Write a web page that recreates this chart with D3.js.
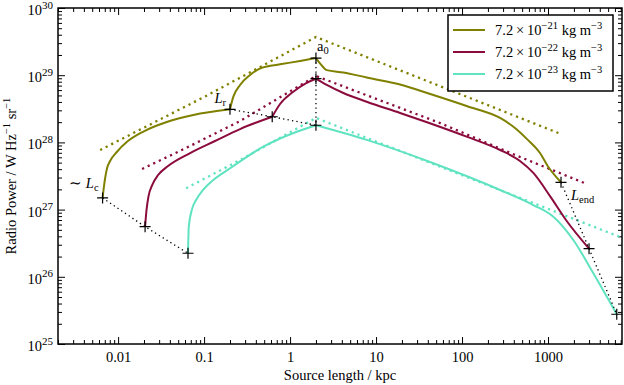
<!DOCTYPE html>
<html>
<head>
<meta charset="utf-8">
<script src="https://cdn.jsdelivr.net/npm/d3@7"></script>
<style>
  body { margin: 0; background: #fff; }
  text { font-family: "Liberation Serif", "Times New Roman", serif; }
</style>
</head>
<body>
<svg id="chart"></svg>
<script>
// axis ticks
var lengthTicks = [0.01, 0.1, 1, 10, 100, 1000];
var lengthLabels = ["0.01", "0.1", "1", "10", "100", "1000"];
var powerTicks = [1e25, 1e26, 1e27, 1e28, 1e29, 1e30];
var powerExps = ["25", "26", "27", "28", "29", "30"];

// ambient densities (legend), one per track
var densityExps = ["\u221221", "\u221222", "\u221223"];
var colors = ["#808000", "#8b0b3d", "#5fe3c0"];

// solid tracks: [source length / kpc, radio power / W Hz^-1 sr^-1]
var track21 = [
  [0.0066, 1.49e27], [0.00688, 2.32e27], [0.00745, 4.16e27], [0.00807, 5.29e27], [0.00966, 7.2e27],
  [0.0126, 1.01e28], [0.0197, 1.45e28], [0.0368, 2.01e28], [0.0751, 2.56e28], [0.2, 3.11e28],
  [0.219, 4.79e28], [0.262, 7.15e28], [0.343, 1.01e29], [0.469, 1.29e29], [0.765, 1.45e29],
  [1.31, 1.63e29], [2.0, 1.8e29],
  [2.23, 1.5e29], [2.67, 1.19e29], [4.17, 1.1e29], [7.79, 9.24e28], [19, 7.27e28], [46.4, 5.07e28],
  [113, 3.48e28], [277, 2.31e28], [413, 1.64e28], [570, 1.12e28], [807, 6.95e27], [1000, 4.38e27],
  [1416, 2.55e27]
];
var track22 = [
  [0.0206, 5.57e26], [0.0214, 9.86e26], [0.0226, 1.59e27], [0.0249, 2.32e27], [0.0292, 3.27e27],
  [0.0381, 4.46e27], [0.0688, 6.95e27], [0.134, 1.05e28], [0.262, 1.58e28], [0.62, 2.41e28],
  [0.765, 3.73e28], [1.08, 5.62e28], [1.54, 7.65e28], [2.0, 8.87e28],
  [2.67, 7.15e28], [4.17, 5.43e28], [7.79, 4.03e28], [19, 2.74e28], [46.4, 1.85e28], [113, 1.22e28],
  [277, 7.71e27], [472, 5.29e27], [675, 3.51e27], [1055, 1.59e27], [1650, 6.76e26], [3000, 2.62e26]
];
var track23 = [
  [0.065, 2.24e26], [0.0664, 5.57e26], [0.0719, 9.86e26], [0.0807, 1.39e27], [0.0973, 1.96e27],
  [0.128, 2.76e27], [0.2005, 4.12e27], [0.489, 8.63e27], [1.197, 1.44e28], [2.0, 1.8e28],
  [7.79, 1.09e28], [46.4, 4.89e27], [277, 1.96e27], [675, 1.17e27], [1153, 7.84e26],
  [1968, 3.53e26], [3363, 1.13e26], [6300, 2.77e25]
];

// dotted analytic approximations
var approx21 = [[0.00618, 7.71e27], [0.1027, 4.82e28], [2.0, 3.7e29], [1416, 1.33e28]];
var approx22 = [[0.019, 4.02e27], [0.0688, 8.84e27], [0.262, 2.08e28], [2.0, 9.73e28], [55.5, 1.94e28], [472, 6.07e27], [2840, 2.4e27]];
var approx23 = [[0.0618, 2.08e27], [0.262, 5.47e27], [2.0, 2.31e28], [6871, 3.91e26]];

// characteristic points (one per track)
var ptsLc = [[0.0066, 1.49e27], [0.0206, 5.57e26], [0.065, 2.24e26]];
var ptsLr = [[0.2, 3.11e28], [0.62, 2.41e28], [2.0, 1.8e28]];
var ptsA0 = [[2.0, 1.8e29], [2.0, 8.87e28], [2.0, 1.8e28]];
var ptsEnd = [[1416, 2.55e27], [3000, 2.62e26], [6300, 2.77e25]];

var tracks = [track21, track22, track23];
var approxes = [approx21, approx22, approx23];

// set the dimensions and margins of the graph
var margin = { top: 8, right: 2, bottom: 41, left: 58 },
    width = 624 - margin.left - margin.right,
    height = 385 - margin.top - margin.bottom;

var svg = d3.select("#chart")
    .attr("width", 624)
    .attr("height", 385);

var g = svg.append("g")
    .attr("transform", "translate(" + margin.left + "," + margin.top + ")");

var x = d3.scaleLog().domain([0.002, 7250]).range([0, width]);
var y = d3.scaleLog().domain([1e25, 1e30]).range([height, 0]);

var isPow = function (d) { var l = Math.log10(d); return Math.abs(l - Math.round(l)) < 1e-6; };
var minorX = x.ticks().filter(function (d) { return !isPow(d); });
var minorY = y.ticks().filter(function (d) { return !isPow(d); });

function styleAxis(a) {
  a.select(".domain").remove();
  a.attr("font-family", "Liberation Serif, serif").attr("font-size", 14.5);
  a.selectAll(".tick line").attr("stroke-width", 1);
}

// bottom
g.append("g")
    .attr("transform", "translate(0," + height + ")")
    .call(d3.axisBottom(x).tickValues(lengthTicks)
        .tickFormat(function (d) { return lengthLabels[lengthTicks.indexOf(d)]; })
        .tickSizeInner(-7).tickSizeOuter(0).tickPadding(8))
    .call(styleAxis);
g.append("g")
    .attr("transform", "translate(0," + height + ")")
    .call(d3.axisBottom(x).tickValues(minorX).tickFormat("").tickSizeInner(-4).tickSizeOuter(0))
    .call(styleAxis);
// top
g.append("g")
    .call(d3.axisTop(x).tickValues(lengthTicks).tickFormat("").tickSizeInner(-7).tickSizeOuter(0))
    .call(styleAxis);
g.append("g")
    .call(d3.axisTop(x).tickValues(minorX).tickFormat("").tickSizeInner(-4).tickSizeOuter(0))
    .call(styleAxis);
// left
g.append("g")
    .call(d3.axisLeft(y).tickValues(powerTicks).tickFormat(function () { return "10"; })
        .tickSizeInner(-7).tickSizeOuter(0).tickPadding(5))
    .call(styleAxis)
    .call(function (a) {
      a.selectAll(".tick text")
          .attr("dy", "0.45em")
          .append("tspan")
          .attr("dy", -6.5)
          .attr("font-size", 11)
          .text(function (d) { return powerExps[powerTicks.indexOf(d)]; });
    });
g.append("g")
    .call(d3.axisLeft(y).tickValues(minorY).tickFormat("").tickSizeInner(-4).tickSizeOuter(0))
    .call(styleAxis);
// right
g.append("g")
    .attr("transform", "translate(" + width + ",0)")
    .call(d3.axisRight(y).tickValues(powerTicks).tickFormat("").tickSizeInner(-7).tickSizeOuter(0))
    .call(styleAxis);
g.append("g")
    .attr("transform", "translate(" + width + ",0)")
    .call(d3.axisRight(y).tickValues(minorY).tickFormat("").tickSizeInner(-4).tickSizeOuter(0))
    .call(styleAxis);

var plot = g.append("g");

var line = d3.line()
    .x(function (d) { return x(d[0]); })
    .y(function (d) { return y(d[1]); });
var smooth = d3.line()
    .x(function (d) { return x(d[0]); })
    .y(function (d) { return y(d[1]); })
    .curve(d3.curveMonotoneX);

// dotted approximations
approxes.forEach(function (a, i) {
  plot.append("path")
      .datum(a)
      .attr("fill", "none")
      .attr("stroke", colors[i])
      .attr("stroke-width", 2.3)
      .attr("stroke-dasharray", "2.2,4")
      .attr("d", line);
});

// split a track at the Lr / a0 break points so corners stay sharp
function splitAt(track, xs) {
  var segs = [], cur = [];
  track.forEach(function (p) {
    cur.push(p);
    if (cur.length > 1 && xs.indexOf(p[0]) >= 0) { segs.push(cur); cur = [p]; }
  });
  if (cur.length > 1) segs.push(cur);
  return segs;
}

tracks.forEach(function (t, i) {
  splitAt(t, [ptsLr[i][0], ptsA0[i][0]]).forEach(function (seg) {
    plot.append("path")
        .datum(seg)
        .attr("fill", "none")
        .attr("stroke", colors[i])
        .attr("stroke-width", 2)
        .attr("stroke-linejoin", "round")
        .attr("d", smooth);
  });
});

// black dotted connectors
[ptsLc, ptsLr, ptsA0, ptsEnd].forEach(function (pts) {
  plot.append("path")
      .datum(pts)
      .attr("fill", "none")
      .attr("stroke", "#000")
      .attr("stroke-width", 1.3)
      .attr("stroke-dasharray", "1.3,3.2")
      .attr("d", line);
});

// + markers
var allPts = ptsLc.concat(ptsLr.slice(0, 2), ptsA0, ptsEnd);
plot.selectAll(".mark")
    .data(allPts)
    .enter().append("path")
    .attr("class", "mark")
    .attr("transform", function (d) { return "translate(" + x(d[0]) + "," + y(d[1]) + ")"; })
    .attr("d", "M-5.5,0H5.5M0,-5.5V5.5")
    .attr("stroke", "#000")
    .attr("stroke-width", 1.2);

// annotations
function label(px, py, anchor, pre, main, sub, italic) {
  var t = g.append("text")
      .attr("x", px).attr("y", py)
      .attr("text-anchor", anchor)
      .attr("font-size", 14.5);
  if (pre) t.append("tspan").text(pre);
  t.append("tspan").attr("font-style", italic ? "italic" : "normal").text(main);
  t.append("tspan").attr("font-size", 10.5).attr("dy", 3).text(sub);
}
label(x(ptsLc[0][0]) - 4, y(ptsLc[0][1]) - 10, "end", "\u223c ", "L", "c", true);
label(x(ptsLr[0][0]) - 4, y(ptsLr[0][1]) - 6, "end", null, "L", "r", true);
label(x(ptsA0[0][0]) + 1, y(ptsA0[0][1]) - 7, "start", null, "a", "0", false);
label(x(ptsEnd[0][0]) + 10, y(ptsEnd[0][1]) + 18, "start", null, "L", "end", true);

// frame
g.append("rect")
    .attr("width", width)
    .attr("height", height)
    .attr("fill", "none")
    .attr("stroke", "#000")
    .attr("stroke-width", 1.5);

// legend
var leg = g.append("g").attr("transform", "translate(" + (width - 174) + ",7)");
leg.append("rect")
    .attr("width", 165).attr("height", 76)
    .attr("fill", "#fff")
    .attr("stroke", "#000")
    .attr("stroke-width", 1.5);
densityExps.forEach(function (e, i) {
  var yy = 15 + i * 22;
  leg.append("line")
      .attr("x1", 5).attr("x2", 37)
      .attr("y1", yy).attr("y2", yy)
      .attr("stroke", colors[i])
      .attr("stroke-width", 2);
  var t = leg.append("text")
      .attr("x", 47).attr("y", yy + 5)
      .attr("font-size", 14.5);
  t.append("tspan").text("7.2\u2009\u00d7\u200910");
  t.append("tspan").attr("font-size", 10.5).attr("dy", -6).text(e);
  t.append("tspan").attr("dy", 6).text(" kg m");
  t.append("tspan").attr("font-size", 10.5).attr("dy", -6).text("\u22123");
});

// axis labels
svg.append("text")
    .attr("x", margin.left + width / 2)
    .attr("y", 380)
    .attr("text-anchor", "middle")
    .attr("font-size", 14.5)
    .text("Source length / kpc");

var yl = svg.append("text")
    .attr("transform", "translate(16," + (margin.top + height / 2) + ") rotate(-90)")
    .attr("text-anchor", "middle")
    .attr("font-size", 14.5);
yl.append("tspan").text("Radio Power / W Hz");
yl.append("tspan").attr("font-size", 10.5).attr("dy", -6).text("\u22121");
yl.append("tspan").attr("dy", 6).text(" sr");
yl.append("tspan").attr("font-size", 10.5).attr("dy", -6).text("\u22121");
</script>
</body>
</html>
